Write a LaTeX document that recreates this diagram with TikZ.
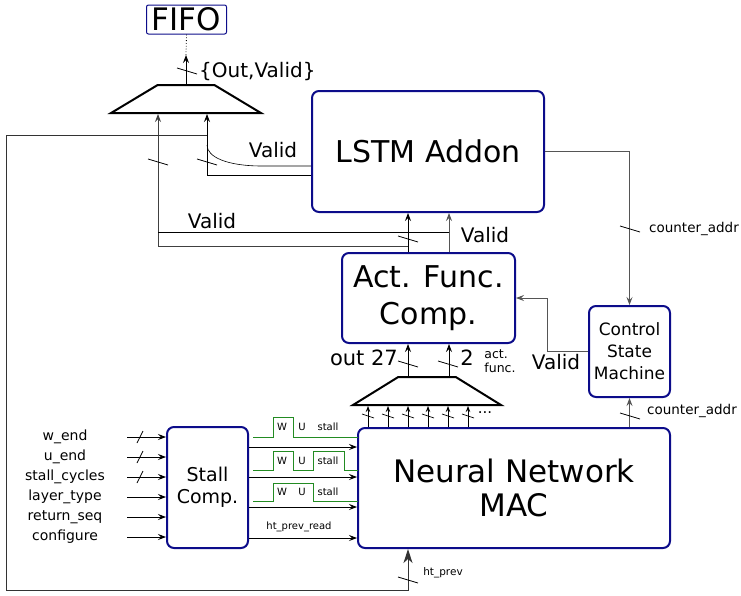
\documentclass[tikz,border=0pt]{standalone}
\usepackage{fontspec}
\setmainfont{DejaVu Sans}
\usepackage{tikz}
\usetikzlibrary{arrows.meta,shapes.geometric}
\definecolor{acc-navy}{HTML}{0C0C8A}
\definecolor{acc-gray}{HTML}{555555}
\definecolor{acc-green}{HTML}{228B22}
\newcommand{\fsz}[2]{\fontsize{#1}{#2}\selectfont}

\begin{document}
\begin{tikzpicture}[x=1pt, y=-1pt,
    block/.style={draw=acc-navy, line width=2pt, rounded corners=7pt, fill=white,
                  align=center, inner sep=0pt},
    mux/.style={trapezium, trapezium stretches=true, draw, line width=2pt,
                minimum height=28pt, inner sep=2pt},
    arr/.style={-{Stealth[length=8pt,width=6pt,inset=3pt]}, line width=0.8pt},
    garr/.style={arr, acc-gray},
    sarr/.style={-{Stealth[length=6pt,width=4.5pt,inset=2pt]}, line width=0.8pt},
    bigarr/.style={-{Stealth[length=14pt,width=9pt,inset=4pt]}, line width=1pt, black!80},
    lbl/.style={inner sep=0pt},
    wave/.style={acc-green, line width=1pt},
    vbus/.pic={\draw[line width=0.8pt] (-10,-3) -- (10,3);},
    hbus/.pic={\draw[line width=0.8pt] (-3,6) -- (3,-6);},
    sbus/.pic={\draw[line width=0.7pt] (-6,-2) -- (6,2);},
  ]
    \useasboundingbox (0,0) rectangle (741,595);

    % Columns and rows used by the wires
    \coordinate (colL) at (6,0);
    \coordinate (colA) at (158,0);
    \coordinate (colB) at (207,0);
    \coordinate (colC) at (408,0);
    \coordinate (colD) at (449,0);
    \coordinate (colV) at (547,0);
    \coordinate (inx)  at (127,0);
    \coordinate (rowF) at (0,55);
    \coordinate (rowT) at (0,135);
    \coordinate (rowK) at (0,145);
    \coordinate (rowV) at (0,166);
    \coordinate (rowO) at (0,175);
    \coordinate (rowJ2) at (0,232);
    \coordinate (rowJ1) at (0,246);
    \coordinate (rowB) at (0,590);
    \coordinate (bend) at (262,166);

    % Blocks
    \node[block, line width=1pt, rounded corners=2pt, minimum width=80pt, minimum height=29pt,
          font=\fsz{31}{31}] (fifo) at (186.5,19.5) {FIFO};
    \node[block, minimum width=232pt, minimum height=121pt, font=\fsz{30}{34}]
          (lstm) at (428,151.5) {\raisebox{-4pt}{LSTM Addon}};
    \node[block, minimum width=173pt, minimum height=90pt, font=\fsz{30}{37}]
          (act) at (428.5,298) {Act. Func.\\Comp.};
    \node[block, minimum width=81pt, minimum height=91pt, font=\fsz{17}{22}]
          (csm) at (629.5,351.5) {Control\\State\\Machine};
    \node[block, minimum width=312pt, minimum height=120pt, font=\fsz{31}{34}]
          (nn) at (514,488) {Neural Network\\MAC};
    \node[block, minimum width=81pt, minimum height=121pt, font=\fsz{19}{22}]
          (stall) at (207.5,487.5) {Stall\\Comp.};

    % Muxes
    \node[mux, minimum width=150pt, trapezium angle=50.6] (mux1) at (186,99) {};
    \node[mux, minimum width=148pt, trapezium angle=51.8] (mux2) at (427,391) {};

    % Output to FIFO
    \draw[arr] (mux1.north) -- (mux1.north |- rowF);
    \draw[dotted, line width=0.8pt] (mux1.north |- rowF) -- (fifo.south);
    \pic at (187,71) {vbus};
    \node[lbl, anchor=west, font=\fsz{20}{20}] (lblout) at (199,72) {\{Out,Valid\}};

    % LSTM outputs back to mux1
    \draw[arr] (lstm.west |- rowO) -| (mux1.south -| colB);
    \draw[line width=0.6pt] (lstm.west |- rowV) -- (bend)
          .. controls +(-35,0) and +(0,12) .. (colB |- rowK);
    \node[lbl, font=\fsz{20}{20}] (lblvalidA) at (273,150) {Valid};
    \pic at (207,162) {vbus};

    % Act. Func. to LSTM, with branches to mux1
    \draw[arr] (act.north -| colC) -- (lstm.south -| colC);
    \draw[garr] (act.north -| colD) -- (lstm.south -| colD);
    \draw[arr, black!75] (colC |- rowJ1) -| (mux1.south -| colA);
    \draw[line width=0.8pt] (colD |- rowJ2) -- (colA |- rowJ2);
    \pic at (408,239) {vbus};
    \pic at (158,162) {vbus};
    \node[lbl, font=\fsz{20}{20}] (lblvalidB) at (212,221) {Valid};
    \node[lbl, font=\fsz{20}{20}] (lblvalidC) at (485,235) {Valid};

    % Feedback loop ht_prev
    \draw[bigarr] (colB |- rowT) -- (colL |- rowT) -- (colL |- rowB) -| (nn.south -| colC);
    \pic at (408,580) {vbus};
    \node[lbl, font=\fsz{10.5}{10.5}] (lblht) at (443,573) {ht\_prev};

    % Control State Machine
    \draw[garr] (lstm.east) -| (csm.north);
    \pic at (630,229) {vbus};
    \node[lbl, font=\fsz{13.5}{13.5}] (lblcntA) at (694,229) {counter\_addr};
    \draw[garr] (csm.west) -| (colV |- act.east) -- (act.east);
    \node[lbl, font=\fsz{20}{20}] (lblvalidD) at (556,362) {Valid};
    \draw[garr] (nn.north -| csm.south) -- (csm.south);
    \pic at (630,416) {vbus};
    \node[lbl, font=\fsz{13.5}{13.5}] (lblcntB) at (692,411) {counter\_addr};

    % mux2 to Act. Func.
    \draw[arr] (mux2.north -| colC) -- (act.south -| colC);
    \draw[arr] (mux2.north -| colD) -- (act.south -| colD);
    \pic at (408,364) {vbus};
    \pic at (448,364) {vbus};
    \node[lbl, anchor=east, font=\fsz{21}{21}] (lblo27) at (398,358) {out 27};
    \node[lbl, font=\fsz{21}{21}] (lbltwo) at (467,358) {2};
    \node[lbl, align=left, font=\fsz{12.5}{14.5}] (lblact) at (500,361) {act.\\func.};

    % MAC outputs into mux2
    \foreach \x in {368,388,408,428,448,468} {
      \coordinate (tap) at (\x,0);
      \draw[sarr] (nn.north -| tap) -- (mux2.south -| tap);
      \pic at (\x,416) {sbus};
    }
    \node[lbl, font=\fsz{15}{15}] (lbldots) at (485,413) {...};

    % Inputs of Stall Comp.
    \foreach \t/\y [count=\i] in {w\_end/437, u\_end/457, stall\_cycles/477,
                                  layer\_type/497, return\_seq/517, configure/537} {
      \node[lbl, font=\fsz{14}{14}] (in\i) at (65,\y) {\t};
      \draw[arr] (in\i -| inx) -- (in\i -| stall.west);
    }
    \foreach \y in {437,457,477} \pic at (140,\y) {hbus};

    % Stall Comp. to MAC
    \foreach \y [count=\i] in {447,477,507,538} {
      \coordinate (sr\i) at (0,\y);
      \draw[arr] (stall.east |- sr\i) -- (nn.west |- sr\i);
    }
    \node[lbl, font=\fsz{10}{10}] (lblread) at (299,527) {ht\_prev\_read};

    % Stall waveforms
    \draw[wave] (253,437) -- (273,437) -- (273,417) -- (293,417) -- (293,437) -- (358,437);
    \draw[wave] (253,470) -- (273,470) -- (273,451) -- (293,451) -- (293,470)
                -- (313,470) -- (313,451) -- (344,451) -- (344,470) -- (358,470);
    \draw[wave] (253,501) -- (273,501) -- (273,483) -- (313,483) -- (313,501) -- (358,501);
    \foreach \y [count=\i] in {427,461,492} {
      \node[lbl, font=\fsz{10}{10}] (w\i) at (282,\y) {W};
      \node[lbl, font=\fsz{10}{10}] (u\i) at (302,\y) {U};
      \node[lbl, font=\fsz{10}{10}] (s\i) at (328,\y) {stall};
    }
  \end{tikzpicture}
\end{document}
